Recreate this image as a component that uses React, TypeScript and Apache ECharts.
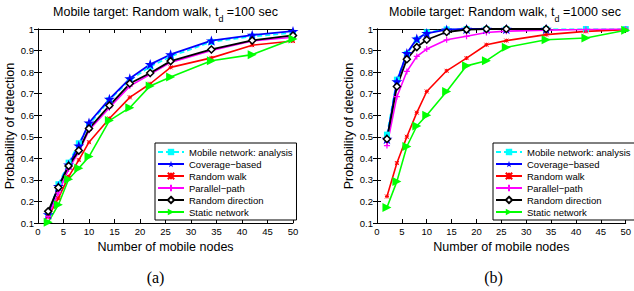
import React, { useEffect, useRef } from "react";
import * as echarts from "echarts";

// Number of mobile nodes
const X = [2, 4, 6, 8, 10, 14, 18, 22, 26, 34, 42, 50];

const SERIES_NAMES = [
  "Mobile network: analysis",
  "Coverage\u2212based",
  "Random walk",
  "Parallel\u2212path",
  "Random direction",
  "Static network",
];

// (a) t_d = 100 sec
const a_analysis = [0.14, 0.28, 0.38, 0.47, 0.555, 0.67, 0.762, 0.825, 0.872, 0.94, 0.965, 0.982];
const a_coverage = [0.14, 0.27, 0.37, 0.458, 0.565, 0.675, 0.77, 0.836, 0.882, 0.946, 0.972, 0.99];
const a_randomWalk = [0.128, 0.215, 0.315, 0.392, 0.475, 0.585, 0.683, 0.746, 0.822, 0.866, 0.925, 0.944];
const a_parallel = [0.13, 0.24, 0.35, 0.43, 0.53, 0.635, 0.735, 0.79, 0.845, 0.9, 0.945, 0.962];
const a_randomDir = [0.154, 0.265, 0.365, 0.436, 0.538, 0.645, 0.747, 0.796, 0.851, 0.905, 0.947, 0.97];
const a_static = [0.103, 0.185, 0.303, 0.354, 0.408, 0.575, 0.635, 0.736, 0.777, 0.853, 0.881, 0.954];

// (b) t_d = 1000 sec
const b_analysis = [0.51, 0.765, 0.885, 0.95, 0.985, 0.998, 1, 1, 1, 1, 1, 1];
const b_coverage = [0.49, 0.756, 0.888, 0.955, 0.98, 0.997, 1, 1, 1, 1];
const b_randomWalk = [0.223, 0.378, 0.5, 0.612, 0.71, 0.806, 0.865, 0.927, 0.946, 0.974, 0.989, 0.997];
const b_parallel = [0.459, 0.686, 0.803, 0.873, 0.907, 0.95, 0.966, 0.984, 0.99, 0.995, 0.998, 1];
const b_randomDir = [0.49, 0.733, 0.86, 0.916, 0.95, 0.986, 0.997, 1, 1, 1];
const b_static = [0.172, 0.293, 0.455, 0.55, 0.6, 0.71, 0.829, 0.853, 0.915, 0.95, 0.958, 0.994];

const X_TICK_STEP = 5;
const Y_TICK_STEP = 0.1;

const FONT = "'Liberation Sans', Arial, Helvetica, sans-serif";

const STAR =
  "path://M10,0 L12.25,6.91 L19.51,6.91 L13.63,11.18 L15.88,18.09 L10,13.82 L4.12,18.09 L6.37,11.18 L0.49,6.91 L7.75,6.91 Z";
const ASTER = "path://M0,0 L10,10 M10,0 L0,10 M5,0 L5,10 M0,5 L10,5";
const PLUS = "path://M5,0 L5,10 M0,5 L10,5";

const STYLES: any[] = [
  {
    color: "#00ffff",
    symbol: "rect",
    symbolSize: 6,
    lineStyle: { color: "#00ffff", width: 1.6, type: [5, 3] },
    itemStyle: { color: "#00ffff" },
  },
  {
    color: "#0000ff",
    symbol: STAR,
    symbolSize: 11,
    lineStyle: { color: "#0000ff", width: 1.8 },
    itemStyle: { color: "#0000ff" },
  },
  {
    color: "#ff0000",
    symbol: ASTER,
    symbolSize: 4,
    lineStyle: { color: "#ff0000", width: 1.6 },
    itemStyle: { color: "#ff0000", borderColor: "#ff0000", borderWidth: 1 },
  },
  {
    color: "#ff00ff",
    symbol: PLUS,
    symbolSize: 6,
    lineStyle: { color: "#ff00ff", width: 1.6 },
    itemStyle: { color: "#ff00ff", borderColor: "#ff00ff", borderWidth: 1.2 },
  },
  {
    color: "#000000",
    symbol: "diamond",
    symbolSize: 7,
    lineStyle: { color: "#000000", width: 1.8 },
    itemStyle: { color: "#ffffff", borderColor: "#000000", borderWidth: 1.5 },
  },
  {
    color: "#00ff00",
    symbol: "triangle",
    symbolRotate: -90,
    symbolSize: 9,
    lineStyle: { color: "#00ff00", width: 1.6 },
    itemStyle: { color: "#00ff00" },
  },
];

const PANEL_A = [a_analysis, a_coverage, a_randomWalk, a_parallel, a_randomDir, a_static];
const PANEL_B = [b_analysis, b_coverage, b_randomWalk, b_parallel, b_randomDir, b_static];

function buildSeries(panel: number[][], idx: number) {
  return panel.map((vals, i) => ({
    type: "line",
    name: SERIES_NAMES[i],
    xAxisIndex: idx,
    yAxisIndex: idx,
    data: vals.map((v, j) => [X[j], v]),
    symbolKeepAspect: true,
    showSymbol: true,
    silent: true,
    ...STYLES[i],
  }));
}

const axisLineStyle = { show: true, lineStyle: { color: "#000", width: 1 } };
const tickStyle = { show: true, inside: true, length: 4, lineStyle: { color: "#000", width: 1 } };
const labelStyle = { color: "#000", fontSize: 9.5, fontFamily: FONT };
const nameStyle = { color: "#000", fontSize: 12.5, fontFamily: FONT };

function xAxis(grid: number, top: boolean) {
  return {
    gridIndex: grid,
    type: "value",
    min: 0,
    max: 50,
    interval: X_TICK_STEP,
    position: top ? "top" : "bottom",
    name: top ? "" : "Number of mobile nodes",
    nameLocation: "middle",
    nameGap: 13,
    nameTextStyle: nameStyle,
    axisLine: axisLineStyle,
    axisTick: tickStyle,
    axisLabel: top ? { show: false } : { ...labelStyle, margin: 3 },
    splitLine: { show: false },
  };
}

function yAxis(grid: number, right: boolean) {
  return {
    gridIndex: grid,
    type: "value",
    min: 0.1,
    max: 1,
    interval: Y_TICK_STEP,
    position: right ? "right" : "left",
    name: right ? "" : "Probability of detection",
    nameLocation: "middle",
    nameGap: 18,
    nameTextStyle: nameStyle,
    axisLine: axisLineStyle,
    axisTick: tickStyle,
    axisLabel: right
      ? { show: false }
      : {
          ...labelStyle,
          margin: 4,
          formatter: (v: number) => String(Math.round(v * 10) / 10),
        },
    splitLine: { show: false },
  };
}

function legend(left: number) {
  return {
    orient: "vertical",
    left,
    top: 143,
    data: SERIES_NAMES,
    itemWidth: 26,
    itemHeight: 8,
    itemGap: 2,
    padding: [4, 4, 3, 2],
    borderColor: "#000",
    borderWidth: 1,
    backgroundColor: "#fff",
    selectedMode: false,
    textStyle: { color: "#000", fontSize: 9.5, fontFamily: FONT },
  };
}

function titleText(x: number, td: string) {
  return {
    type: "text",
    x,
    y: 12,
    style: {
      text: `{a|Mobile target: Random walk, t}{b|d}{a| =${td} sec}`,
      align: "center",
      verticalAlign: "middle",
      rich: {
        a: { fontSize: 12.5, fontFamily: FONT, fill: "#000", lineHeight: 16 },
        b: {
          fontSize: 9,
          fontFamily: FONT,
          fill: "#000",
          lineHeight: 9,
          verticalAlign: "bottom",
          padding: [0, 0, -3, 0],
        },
      },
    },
  };
}

function caption(x: number, t: string) {
  return {
    type: "text",
    x,
    y: 277,
    style: {
      text: t,
      align: "center",
      verticalAlign: "middle",
      fontSize: 16,
      fontFamily: "'Liberation Serif', 'Times New Roman', serif",
      fill: "#000",
    },
  };
}

export default function App() {
  const ref = useRef<HTMLDivElement>(null);
  useEffect(() => {
    if (!ref.current) return;
    const chart = echarts.init(ref.current, undefined, { renderer: "svg" });
    chart.setOption({
      animation: false,
      backgroundColor: "#fff",
      grid: [
        { left: 38, top: 29, width: 255, height: 194, show: false },
        { left: 377, top: 29, width: 255, height: 194, show: false },
      ],
      xAxis: [xAxis(0, false), xAxis(1, false), xAxis(0, true), xAxis(1, true)],
      yAxis: [yAxis(0, false), yAxis(1, false), yAxis(0, true), yAxis(1, true)],
      legend: [legend(155), legend(493)],
      series: [...buildSeries(PANEL_A, 0), ...buildSeries(PANEL_B, 1)],
      graphic: [
        titleText(165.5, "100"),
        titleText(505, "1000"),
        caption(155.5, "(a)"),
        caption(493.5, "(b)"),
      ],
    });
    return () => chart.dispose();
  }, []);
  return (
    <div
      ref={ref}
      style={{ position: "fixed", left: 0, top: 0, width: 634, height: 291, background: "#fff" }}
    />
  );
}
